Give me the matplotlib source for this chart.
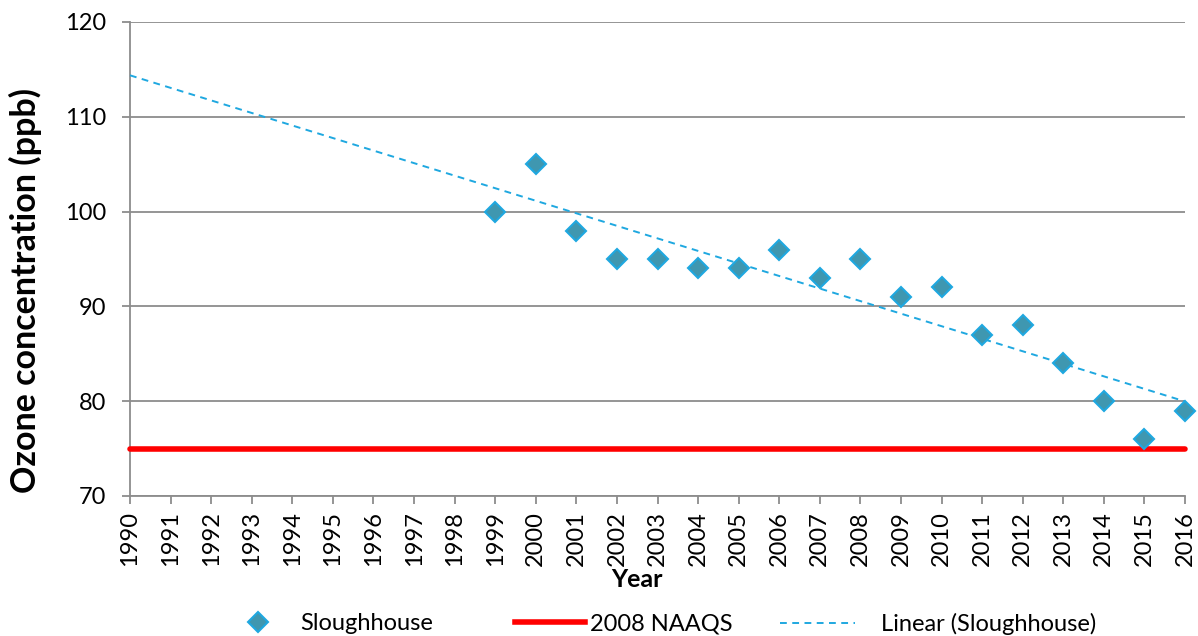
import numpy as np
import matplotlib
matplotlib.use("Agg")
import matplotlib.pyplot as plt
from matplotlib.lines import Line2D

years = [1999, 2000, 2001, 2002, 2003, 2004, 2005, 2006, 2007, 2008,
         2009, 2010, 2011, 2012, 2013, 2014, 2015, 2016]
ozone = [100, 105, 98, 95, 95, 94, 94, 96, 93, 95,
         91, 92, 87, 88, 84, 80, 76, 79]
naaqs_years = [1990, 2016]
naaqs_value = [75, 75]
tick_years = list(range(1990, 2017))
y_ticks = [70, 80, 90, 100, 110, 120]

plt.rcParams['font.family'] = ['Lato', 'DejaVu Sans']

W, H = 1198, 636
fig = plt.figure(figsize=(W / 100, H / 100), dpi=100)
ax = fig.add_axes([130 / W, 1 - 496 / H, 1055 / W, 474 / H])

gray = '#8c8c8c'
blue = '#1fa8e0'
teal = '#3f97b0'
dash = (0, (3.5, 2.8))

ax.set_xlim(1990, 2016)
ax.set_ylim(70, 120)
ax.set_yticks(y_ticks)
ax.set_xticks(tick_years)
ax.set_xticklabels([str(y) for y in tick_years], rotation=90)
ax.yaxis.grid(True, color=gray, linewidth=1.3)
ax.set_axisbelow(True)
for s in ['top', 'right']:
    ax.spines[s].set_visible(False)
for s in ['left', 'bottom']:
    ax.spines[s].set_color(gray)
    ax.spines[s].set_linewidth(1.3)
ax.tick_params(axis='both', colors=gray, length=6, width=1.3, labelsize=17,
               labelcolor='black')
ax.tick_params(axis='x', pad=5)
ax.tick_params(axis='y', pad=11)

# linear trend fitted through the data
coef = np.polyfit(years, ozone, 1)
tx = np.array([1990, 2016])
ax.plot(tx, np.polyval(coef, tx), color=blue, linestyle=dash,
        linewidth=1.4, zorder=3, clip_on=False)

ax.plot(naaqs_years, naaqs_value, color='#ff0000', linewidth=4,
        solid_capstyle='round', zorder=4, clip_on=False)

ax.plot(years, ozone, linestyle='none', marker='D', markersize=10.5,
        markerfacecolor=teal, markeredgecolor=blue,
        markeredgewidth=1.5, zorder=5, clip_on=False)

ax.set_ylabel('Ozone concentration (ppb)', fontsize=24.5, fontweight='bold')
ax.yaxis.set_label_coords((42 - 130) / 1055, 1 - (290 - 22) / 474)
ax.set_xlabel('Year', fontsize=18, fontweight='bold')
ax.xaxis.set_label_coords((637 - 130) / 1055, -(568 - 496) / 474)

fs = 17
em = fs * 100 / 72
ly = 1 - 624 / H
h_marker = Line2D([], [], linestyle='none', marker='D', markersize=10.5,
                  markerfacecolor=teal, markeredgecolor=blue,
                  markeredgewidth=1.5)
h_red = Line2D([], [], color='#ff0000', linewidth=4)
h_dash = Line2D([], [], color=blue, linestyle=dash, linewidth=1.4)

legend_specs = [
    (h_marker, 'Sloughhouse', 234, 2.0, 0.8),
    (h_red, '2008 NAAQS', 515, 70 / em, 0.2),
    (h_dash, 'Linear (Sloughhouse)', 780, 75 / em, 1.1),
]
for h, lab, x0, hl, htp in legend_specs:
    fig.legend([h], [lab], loc='center left', bbox_to_anchor=(x0 / W, ly),
               frameon=False, fontsize=fs, handlelength=hl,
               handletextpad=htp, borderpad=0, borderaxespad=0)

fig.savefig('out.png', dpi=100)
